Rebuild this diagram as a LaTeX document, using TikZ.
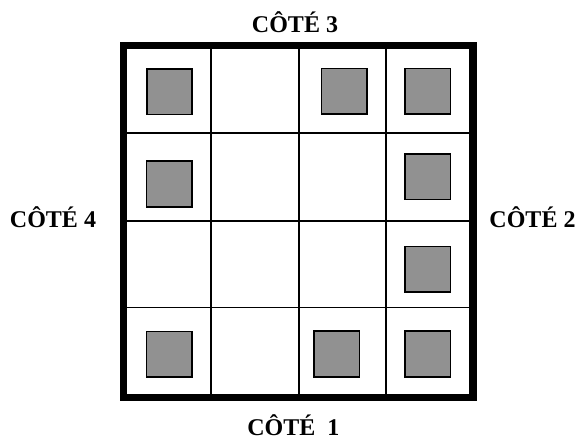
\documentclass[tikz,border=0pt]{standalone}
\usepackage{fontspec}
\setmainfont{Liberation Serif}
\begin{document}
\begin{tikzpicture}[x=1pt,y=-1pt,
  grid/.style={line width=1.8pt},
  frame/.style={line width=7.2pt},
  piece/.style={draw=black,line width=1.6pt,fill=black!43,minimum size=45.5pt,inner sep=0pt,outer sep=0pt},
  side/.style={font=\fontsize{24}{28}\selectfont\bfseries,anchor=base,inner sep=0pt}]
\useasboundingbox (0,0) rectangle (579,441);
\coordinate (tl) at (123.7,45.5);
\coordinate (br) at (473,397.3);
% inner grid lines
\foreach \x in {211,299,386.3} \draw[grid] (\x,45.5) -- (\x,397.3);
\foreach \y in {132.8,220.7,307.5} \draw[grid] (123.7,\y) -- (473,\y);
\draw[frame] (tl) rectangle (br);
% pieces
\node[piece] (p11) at (169.5,91.7) {};
\node[piece] (p13) at (344.2,91.3) {};
\node[piece] (p14) at (427.6,91.3) {};
\node[piece] (p21) at (169.3,184) {};
\node[piece] (p24) at (427.6,176.7) {};
\node[piece] (p34) at (427.6,269.3) {};
\node[piece] (p41) at (169.3,354.1) {};
\node[piece] (p43) at (336.7,354) {};
\node[piece] (p44) at (427.6,354) {};
% labels
\node[side] (c3) at (295,33) {CÔTÉ 3};
\node[side] (c4) at (53,228) {CÔTÉ 4};
\node[side] (c2) at (532.5,228) {CÔTÉ 2};
\node[side] (c1) at (293.3,435) {CÔTÉ\ \ 1};
\end{tikzpicture}
\end{document}
